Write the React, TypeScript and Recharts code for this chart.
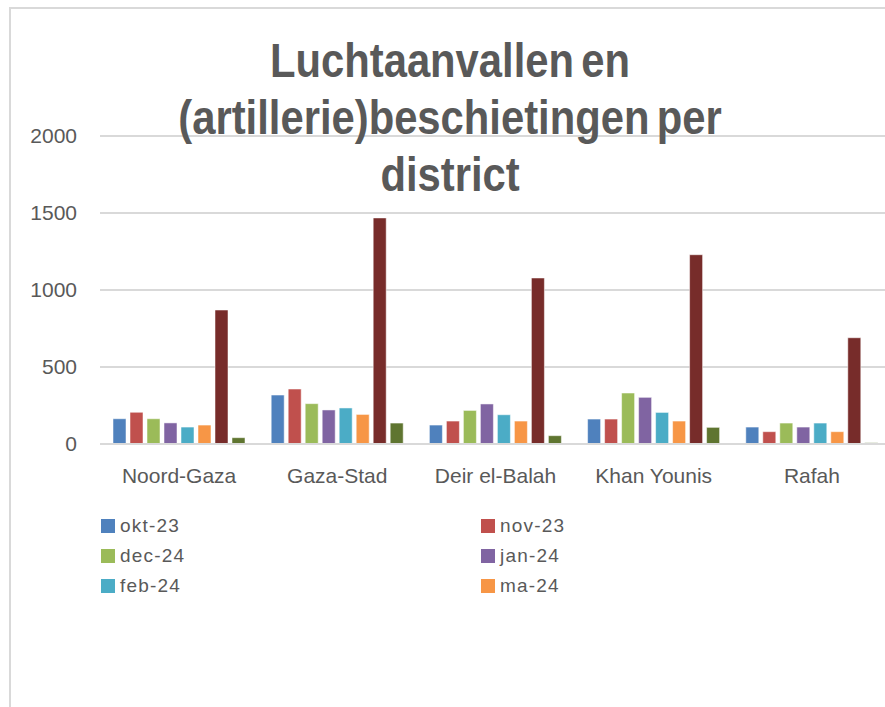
import React from 'react';
import { BarChart, Bar, XAxis, YAxis, CartesianGrid } from 'recharts';

const districts = ['Noord-Gaza', 'Gaza-Stad', 'Deir el-Balah', 'Khan Younis', 'Rafah'];
const okt23 = [164, 318, 123, 162, 110];
const nov23 = [206, 357, 149, 162, 80];
const dec24 = [164, 262, 218, 331, 136];
const jan24 = [137, 221, 260, 303, 110];
const feb24 = [110, 234, 190, 205, 136];
const ma24 = [123, 192, 149, 149, 80];
const apr24 = [870, 1468, 1078, 1229, 690];
const mei24 = [41, 136, 54, 108, 8];
const yTicks = [0, 500, 1000, 1500, 2000];
const titleLines = ['Luchtaanvallen en', '(artillerie)beschietingen per', 'district'];

const series = [
  { key: 'okt-23', values: okt23, color: '#4F81BD' },
  { key: 'nov-23', values: nov23, color: '#C0504D' },
  { key: 'dec-24', values: dec24, color: '#9BBB59' },
  { key: 'jan-24', values: jan24, color: '#8064A2' },
  { key: 'feb-24', values: feb24, color: '#4BACC6' },
  { key: 'ma-24', values: ma24, color: '#F79646' },
  { key: 'apr-24', values: apr24, color: '#772C2A' },
  { key: 'mei-24', values: mei24, color: '#5F7530' },
];

// legend in the original is clipped after the sixth entry
const legendItems = series.slice(0, 6);

const data = districts.map((d, i) => {
  const row: any = { name: d };
  series.forEach((s) => { row[s.key] = s.values[i]; });
  return row;
});

const textColor = '#595959';
const gridColor = '#d9d9d9';

export default function App() {
  return (
    <div style={{ position: 'fixed', left: 0, top: 0, width: 885, height: 707, overflow: 'hidden', background: '#fff', fontFamily: '"Liberation Sans", Arial, sans-serif' }}>
      <div style={{ position: 'absolute', left: 9, top: 7, width: 920, height: 740, borderLeft: `2px solid ${gridColor}`, borderTop: `2px solid ${gridColor}` }} />
      <div style={{ position: 'absolute', left: 0, top: 0 }}>
        <BarChart width={900} height={707} data={data} margin={{ top: 136, right: 9, bottom: 213, left: 0 }} barGap={4} barSize={13}>
          <CartesianGrid vertical={false} stroke={gridColor} strokeWidth={2} />
          <XAxis
            dataKey="name"
            axisLine={{ stroke: gridColor, strokeWidth: 2 }}
            tickLine={false}
            tickSize={6}
            tickMargin={18}
            height={50}
            tick={{ fontSize: 21, fill: textColor }}
          />
          <YAxis
            domain={[0, 2000]}
            ticks={yTicks}
            width={100}
            axisLine={false}
            tickLine={false}
            tickSize={6}
            tickMargin={17}
            tick={{ fontSize: 21, fill: textColor }}
          />
          {series.map((s) => (
            <Bar key={s.key} dataKey={s.key} fill={s.color} stroke="#ffffff" strokeOpacity={0.5} strokeWidth={1} isAnimationActive={false} />
          ))}
        </BarChart>
      </div>
      <div style={{ position: 'absolute', left: 0, top: 32, width: 900, textAlign: 'center', color: textColor, fontWeight: 'bold', fontSize: 48, lineHeight: '57px', wordSpacing: -5, transform: 'scaleX(0.87)', transformOrigin: '450px 0' }}>
        {titleLines.map((l) => (<div key={l}>{l}</div>))}
      </div>
      {legendItems.map((s, i) => (
        <div key={s.key} style={{ position: 'absolute', left: i % 2 === 0 ? 101 : 481, top: 514 + Math.floor(i / 2) * 30, display: 'flex', alignItems: 'center', color: textColor, fontSize: 19, letterSpacing: 1.2, lineHeight: '24px' }}>
          <span style={{ display: 'inline-block', width: 14, height: 14, background: s.color, marginRight: 5 }} />
          <span>{s.key}</span>
        </div>
      ))}
    </div>
  );
}
